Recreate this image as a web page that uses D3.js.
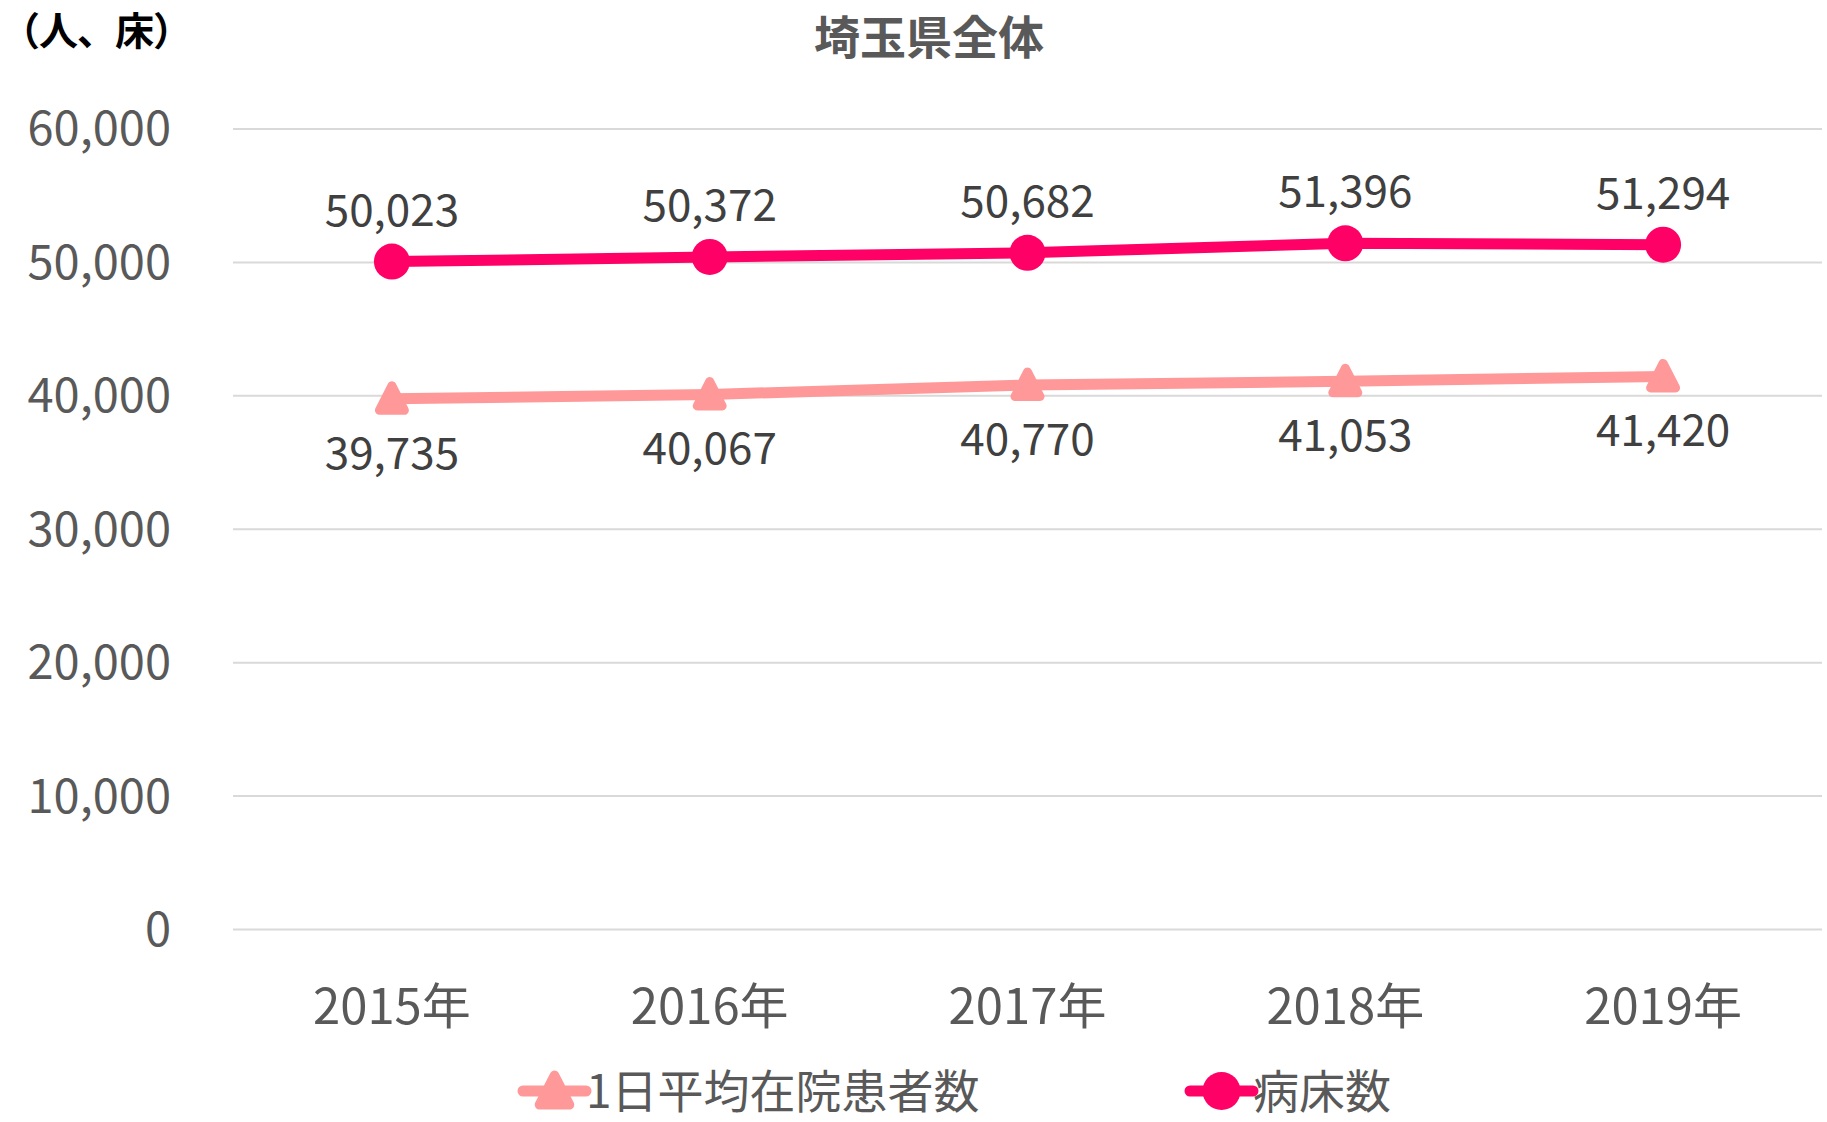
<!DOCTYPE html>
<html><head><meta charset="utf-8">
<script src="https://cdn.jsdelivr.net/npm/d3@7"></script>
<style>
html,body{margin:0;padding:0;background:#fff;}
text{font-family:"Noto Sans CJK JP","Noto Sans",sans-serif;}
</style></head>
<body>
<svg id="chart" width="1827" height="1122"></svg>
<script>
const categories = ["2015年","2016年","2017年","2018年","2019年"];
const patients = [39735, 40067, 40770, 41053, 41420];
const beds = [50023, 50372, 50682, 51396, 51294];
const seriesNames = ["1日平均在院患者数","病床数"];
const yTicks = [0,10000,20000,30000,40000,50000,60000];
const title = "埼玉県全体";
const unitLabel = "（人、床）";

const colPat = "#FF9999", colBed = "#FF0066", textCol = "#595959";
const svg = d3.select("#chart");
const L = 233, R = 1822, T = 128.5, B = 929;
const x = d3.scaleBand().domain(categories).range([L, R]);
const cx = c => x(c) + x.bandwidth()/2;
const y = d3.scaleLinear().domain([0, 60000]).range([B, T]);
const fmt = d3.format(",");

// grid + y axis
const ya = svg.append("g").attr("transform", `translate(${L},0)`)
  .call(d3.axisLeft(y).tickValues(yTicks).tickFormat(fmt).tickSize(-(R-L)).tickPadding(62));
ya.select(".domain").remove();
ya.selectAll(".tick line").attr("stroke", "#D9D9D9").attr("stroke-width", 2);
ya.selectAll(".tick text").attr("fill", textCol).attr("font-size", 47)
  .attr("font-family", "'Noto Sans CJK JP'").attr("dy", "0.35em");

// x axis
const xa = svg.append("g").attr("transform", `translate(0,${B})`)
  .call(d3.axisBottom(x).tickSize(0).tickPadding(60));
xa.select(".domain").remove();
xa.selectAll(".tick text").attr("fill", textCol).attr("font-size", 49)
  .attr("font-family", "'Noto Sans CJK JP'");

// lines
const line = d3.line().x(d => cx(d.c)).y(d => y(d.v));
const patData = categories.map((c,i) => ({c, v: patients[i]}));
const bedData = categories.map((c,i) => ({c, v: beds[i]}));

svg.append("path").datum(patData).attr("d", line).attr("fill","none")
  .attr("stroke", colPat).attr("stroke-width", 11).attr("stroke-linejoin","round");
svg.append("path").datum(bedData).attr("d", line).attr("fill","none")
  .attr("stroke", colBed).attr("stroke-width", 11).attr("stroke-linejoin","round");

const triPath = "M0,-13 L12.5,11.5 L-12.5,11.5 Z";
svg.selectAll(".tri").data(patData).join("path").attr("class","tri")
  .attr("transform", d => `translate(${cx(d.c)},${y(d.v)})`)
  .attr("d", triPath).attr("fill", colPat).attr("stroke", colPat)
  .attr("stroke-width", 9).attr("stroke-linejoin","round");
svg.selectAll(".dot").data(bedData).join("circle").attr("class","dot")
  .attr("cx", d => cx(d.c)).attr("cy", d => y(d.v)).attr("r", 18).attr("fill", colBed);

// data labels
svg.selectAll(".lblB").data(bedData).join("text").attr("class","lblB")
  .attr("x", d => cx(d.c)).attr("y", d => y(d.v) - 36)
  .attr("text-anchor","middle").attr("fill","#404040").attr("font-size", 44)
  .text(d => fmt(d.v));
svg.selectAll(".lblP").data(patData).join("text").attr("class","lblP")
  .attr("x", d => cx(d.c)).attr("y", d => y(d.v) + 70)
  .attr("text-anchor","middle").attr("fill","#404040").attr("font-size", 44)
  .text(d => fmt(d.v));

// title
svg.append("text").attr("x", 929).attr("y", 54).attr("text-anchor","middle")
  .attr("fill", textCol).attr("font-size", 46).attr("font-weight","bold").text(title);
svg.append("text").attr("x", 1).attr("y", 45).attr("fill","#000")
  .attr("font-size", 39).attr("font-weight","bold").attr("letter-spacing", -1).text(unitLabel);

// legend
const legY = 1091;
const leg = [
  {name: seriesNames[0], x0: 523, x1: 586, col: colPat, shape: "tri"},
  {name: seriesNames[1], x0: 1190, x1: 1253, col: colBed, shape: "dot"}
];
leg.forEach(l => {
  const g = svg.append("g");
  g.append("line").attr("x1", l.x0).attr("x2", l.x1).attr("y1", legY).attr("y2", legY)
    .attr("stroke", l.col).attr("stroke-width", 11).attr("stroke-linecap","round");
  const mx = (l.x0 + l.x1)/2;
  if (l.shape === "tri") {
    g.append("path").attr("transform", `translate(${mx},${legY}) scale(1.2)`).attr("d", triPath)
      .attr("fill", l.col).attr("stroke", l.col).attr("stroke-width", 8).attr("stroke-linejoin","round");
  } else {
    g.append("circle").attr("cx", mx).attr("cy", legY).attr("r", 19).attr("fill", l.col);
  }
  g.append("text").attr("x", l.x1).attr("y", legY).attr("dy","0.36em")
    .attr("fill", textCol).attr("font-size", 46).text(l.name);
});
</script>
</body></html>
